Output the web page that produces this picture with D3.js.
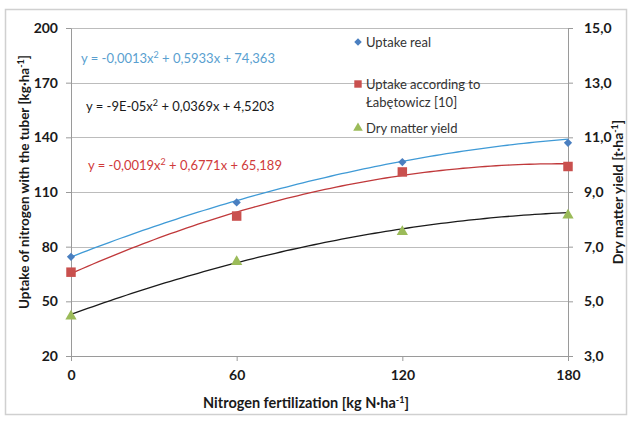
<!DOCTYPE html>
<html>
<head>
<meta charset="utf-8">
<script src="https://cdn.jsdelivr.net/npm/d3@7"></script>
<style>
  html, body { margin: 0; padding: 0; background: #fff; }
  svg { display: block; font-family: Lato, "Open Sans", sans-serif; }
</style>
</head>
<body>
<svg id="chart" width="629" height="421"></svg>
<script>
// Nitrogen doses (kg N/ha)
const doses = [0, 60, 120, 180];
// Nitrogen uptake with tubers (kg/ha), left axis
const uptakeReal = [74.4, 104.3, 126.4, 137.0];
const uptakeLabetowicz = [66.0, 96.8, 121.0, 124.0];
// Dry matter yield (t/ha), right axis
const dryMatter = [4.45, 6.45, 7.55, 8.15];

// Quadratic trend coefficients [a, b, c] for y = a x^2 + b x + c
const trendReal = [-0.0013, 0.5933, 74.363];
const trendLabetowicz = [-0.0019, 0.6771, 65.189];
const trendDry = [-9e-5, 0.0369, 4.5203];

const leftTicks = [20, 50, 80, 110, 140, 170, 200];
const rightTicks = [3, 5, 7, 9, 11, 13, 15];

const svg = d3.select("#chart");

// outer frame
svg.append("rect").attr("x", 5.5).attr("y", 9.5).attr("width", 621).attr("height", 405)
  .attr("fill", "#fff").attr("stroke", "#d0d0d0").attr("stroke-width", 1.5);

const x = d3.scaleLinear().domain([0, 180]).range([71, 568]);
const yL = d3.scaleLinear().domain([20, 200]).range([356, 28]);
const yR = d3.scaleLinear().domain([3, 15]).range([356, 28]);

// horizontal gridlines
svg.append("g").selectAll("line").data(leftTicks.slice(1)).join("line")
  .attr("x1", x(0)).attr("x2", x(180))
  .attr("y1", d => Math.round(yL(d)) + 0.5).attr("y2", d => Math.round(yL(d)) + 0.5)
  .attr("stroke", "#bcbcbc").attr("stroke-width", 1);

const tickFont = g => g.selectAll("text")
  .attr("font-family", "Lato, sans-serif").attr("font-weight", "bold")
  .attr("font-size", 14).attr("fill", "#1a1a1a");

const axisStyle = g => {
  g.selectAll("path, line").attr("stroke", "#9a9a9a");
  tickFont(g);
};

// left axis
svg.append("g").attr("transform", `translate(${x(0)},0)`)
  .call(d3.axisLeft(yL).tickValues(leftTicks).tickFormat(d3.format("d")).tickSize(5).tickSizeOuter(0).tickPadding(8))
  .call(axisStyle);

// right axis
const commaFmt = d => d.toFixed(1).replace(".", ",");
svg.append("g").attr("transform", `translate(${x(180)},0)`)
  .call(d3.axisRight(yR).tickValues(rightTicks).tickFormat(commaFmt).tickSize(5).tickSizeOuter(0).tickPadding(11))
  .call(axisStyle);

// bottom axis
svg.append("g").attr("transform", `translate(0,${yL(20)})`)
  .call(d3.axisBottom(x).tickValues(doses).tickFormat(d3.format("d")).tickSize(5).tickSizeOuter(0).tickPadding(9))
  .call(axisStyle);

// trend curves
const quad = c => v => c[0] * v * v + c[1] * v + c[2];
const xs = d3.range(0, 180.5, 2);
const curve = (coef, yScale) => d3.line()
  .x(d => x(d)).y(d => yScale(quad(coef)(d)))(xs);

svg.append("path").attr("d", curve(trendReal, yL)).attr("fill", "none")
  .attr("stroke", "#3f9ad6").attr("stroke-width", 1.3);
svg.append("path").attr("d", curve(trendLabetowicz, yL)).attr("fill", "none")
  .attr("stroke", "#c0393b").attr("stroke-width", 1.3);
svg.append("path").attr("d", curve(trendDry, yR)).attr("fill", "none")
  .attr("stroke", "#1a1a1a").attr("stroke-width", 1.3);

// markers
const diamond = d3.symbol().type(d3.symbolSquare).size(34);
const square = d3.symbol().type(d3.symbolSquare).size(90);
const triangle = d3.symbol().type(d3.symbolTriangle).size(55);

svg.append("g").selectAll("path").data(doses).join("path")
  .attr("d", diamond).attr("transform", (d, i) => `translate(${x(d)},${yL(uptakeReal[i])}) rotate(45)`)
  .attr("fill", "#4a7fc0");
svg.append("g").selectAll("path").data(doses).join("path")
  .attr("d", square).attr("transform", (d, i) => `translate(${x(d)},${yL(uptakeLabetowicz[i])})`)
  .attr("fill", "#c9504e");
svg.append("g").selectAll("path").data(doses).join("path")
  .attr("d", triangle).attr("transform", (d, i) => `translate(${x(d)},${yR(dryMatter[i])})`)
  .attr("fill", "#9bbb59");

// trend equations
const eq = (tx, ty, color, parts) => {
  const t = svg.append("text").attr("x", tx).attr("y", ty).attr("font-size", 13).attr("fill", color);
  parts.forEach(p => {
    const s = t.append("tspan").text(p.t);
    if (p.sup) s.attr("font-size", 9).attr("dy", -5);
    if (p.down) s.attr("dy", 5);
  });
};
eq(81, 63, "#5a9fd0", [{t: "y = -0,0013x"}, {t: "2", sup: true}, {t: " + 0,5933x + 74,363", down: true}]);
eq(86, 111, "#1a1a1a", [{t: "y = -9E-05x"}, {t: "2", sup: true}, {t: " + 0,0369x + 4,5203", down: true}]);
eq(88, 170, "#d03a3a", [{t: "y = -0,0019x"}, {t: "2", sup: true}, {t: " + 0,6771x + 65,189", down: true}]);

// legend
const lg = svg.append("g").attr("font-size", 13).attr("fill", "#333");
lg.append("path").attr("d", d3.symbol().type(d3.symbolSquare).size(28)).attr("transform", "translate(358,42) rotate(45)").attr("fill", "#4a7fc0");
lg.append("text").attr("x", 366).attr("y", 47).text("Uptake real");
lg.append("path").attr("d", d3.symbol().type(d3.symbolSquare).size(55)).attr("transform", "translate(358,84)").attr("fill", "#c9504e");
lg.append("text").attr("x", 366).attr("y", 89).text("Uptake according to");
lg.append("text").attr("x", 366).attr("y", 107).text("Łabętowicz [10]");
lg.append("path").attr("d", d3.symbol().type(d3.symbolTriangle).size(40)).attr("transform", "translate(358,128)").attr("fill", "#9bbb59");
lg.append("text").attr("x", 366).attr("y", 133).text("Dry matter yield");

// axis titles
const title = (tx, ty, rot, size, parts) => {
  const t = svg.append("text").attr("transform", `translate(${tx},${ty}) rotate(${rot})`)
    .attr("text-anchor", "middle").attr("font-size", size).attr("font-weight", "bold").attr("fill", "#1a1a1a");
  parts.forEach(p => {
    const s = t.append("tspan").text(p.t);
    if (p.sup) s.attr("font-size", 9).attr("dy", -5);
    if (p.down) s.attr("dy", 5);
  });
};
title(29, 182, -90, 13.5, [{t: "Uptake of nitrogen with the tuber [kg·ha"}, {t: "-1", sup: true}, {t: "]", down: true}]);
title(306, 408, 0, 14.5, [{t: "Nitrogen fertilization [kg N·ha"}, {t: "-1", sup: true}, {t: "]", down: true}]);
title(623, 192, -90, 14, [{t: "Dry matter yield [t·ha"}, {t: "-1", sup: true}, {t: "]", down: true}]);
</script>
</body>
</html>
